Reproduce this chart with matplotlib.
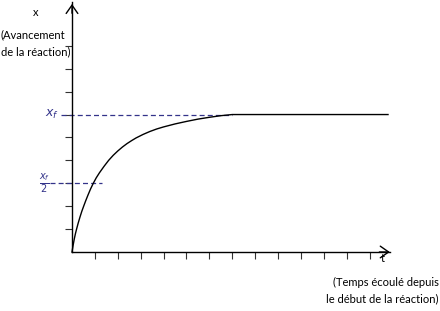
import matplotlib
matplotlib.use("Agg")
import matplotlib.pyplot as plt

# Curve (time and advancement in tick units)
t_vals = [0, 0.05, 0.1, 0.15, 0.2, 0.27, 0.35, 0.43, 0.51, 0.6, 0.7, 0.81, 0.93,
          1.06, 1.2, 1.4, 1.6, 1.8, 2.0, 2.2, 2.4, 2.6, 2.8, 3.1, 3.4, 3.7, 4.0,
          4.5, 5.0, 5.5, 6.0, 6.5, 7.0, 13.8]
x_vals = [0, 0.3, 0.57, 0.8, 1.0, 1.26, 1.53, 1.78, 2.0, 2.24, 2.49, 2.75, 3.0,
          3.24, 3.46, 3.74, 4.0, 4.22, 4.41, 4.58, 4.73, 4.86, 4.98, 5.13, 5.26, 5.37, 5.46,
          5.59, 5.7, 5.8, 5.88, 5.95, 6.0, 6.0]
x_final = 6.0
t_final = 7.0
t_half = 1.0
x_ticks = list(range(1, 14))
y_ticks = list(range(1, 10))

navy = "#33338a"
font = ["Lato", "DejaVu Sans"]

fig = plt.figure(figsize=(4.4, 3.11), dpi=100)
ax = fig.add_axes([0, 0, 1, 1])
ax.set_xlim(-3.144, 16.07)
ax.set_ylim(-2.576, 11.0)

# axes through the origin
for side in ["top", "right"]:
    ax.spines[side].set_visible(False)
ax.spines["left"].set_position(("data", 0))
ax.spines["bottom"].set_position(("data", 0))
ax.spines["left"].set_bounds(0, 10.9)
ax.spines["bottom"].set_bounds(0, 13.9)
for side in ["left", "bottom"]:
    ax.spines[side].set_linewidth(1.0)
ax.set_xticks(x_ticks)
ax.set_yticks(y_ticks)
ax.set_xticklabels([])
ax.set_yticklabels([])
ax.tick_params(direction="out", length=5, width=0.8, color="#333333")

# open arrow heads
ax.annotate("", xy=(0, 10.95), xytext=(0, 10.3),
            arrowprops=dict(arrowstyle="->,head_length=0.6,head_width=0.42", lw=1.0, color="black"))
ax.annotate("", xy=(14.0, 0), xytext=(13.3, 0),
            arrowprops=dict(arrowstyle="->,head_length=0.6,head_width=0.42", lw=1.0, color="black"))

# dashed guide lines
ax.plot([-0.5, t_final], [x_final, x_final], linestyle="--", color=navy, lw=0.9, dashes=(4, 2.5))
ax.plot([-0.95, t_half + 0.3], [x_final / 2, x_final / 2], linestyle="--", color=navy, lw=0.9, dashes=(4, 2.5))

# the curve
ax.plot(t_vals, x_vals, color="black", lw=1.0)

# labels
ax.text(-0.55, x_final, r"$x_f$", color=navy, fontsize=9, ha="right", va="center")
ax.text(-0.95, x_final / 2, r"$\frac{x_f}{2}$", color=navy, fontsize=10, ha="right", va="center")
ax.text(-1.57, 10.45, "x", fontsize=8, ha="center", va="center", family=font)
ax.text(-3.12, 9.5, "(Avancement", fontsize=8, ha="left", va="center", family=font)
ax.text(-3.12, 8.75, "de la réaction)", fontsize=8, ha="left", va="center", family=font)
ax.text(13.58, -0.3, "t", fontsize=8, ha="center", va="center", family=font)
ax.text(16.0, -1.35, "(Temps écoulé depuis", fontsize=8, ha="right", va="center", family=font)
ax.text(16.0, -2.05, "le début de la réaction)", fontsize=8, ha="right", va="center", family=font)

fig.savefig("out.png", dpi=100)
